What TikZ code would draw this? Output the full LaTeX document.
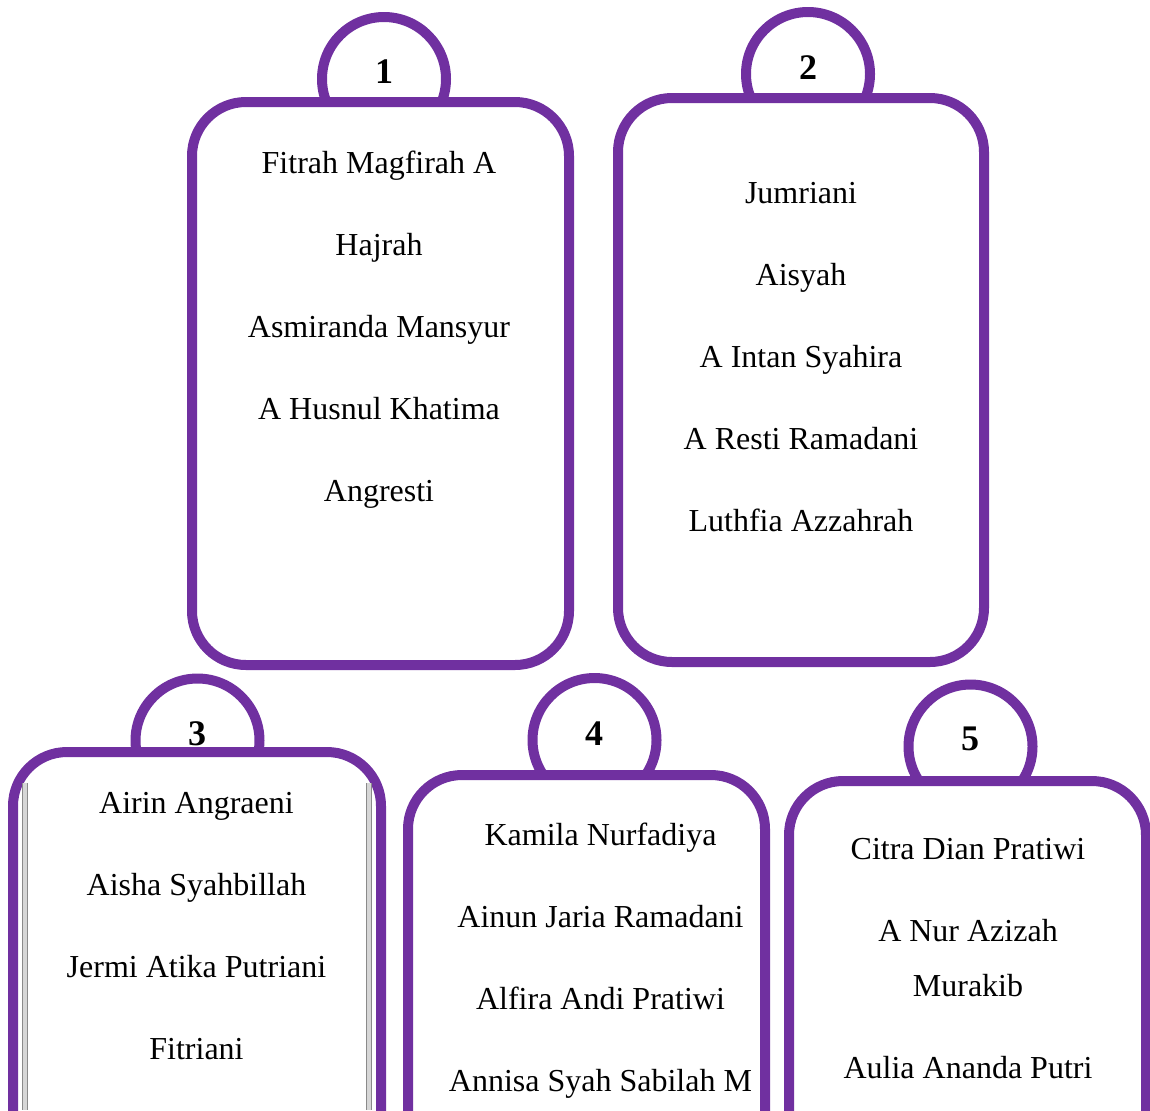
\documentclass[tikz,border=0pt]{standalone}
\usepackage{fontspec}
\setmainfont{Liberation Serif}
\usepackage{xcolor}
\usepackage{tikz}
\usetikzlibrary{positioning}
\definecolor{grouppurple}{HTML}{7030A0}
\definecolor{railgrey}{HTML}{8A8A8A}

\tikzset{
    groupcard/.style={draw=grouppurple, fill=white, line width=5pt, rounded corners=27pt,
                      outer sep=0pt, inner sep=0pt, anchor=north},
    grouptab/.style={circle, draw=grouppurple, fill=white, line width=5pt,
                     minimum size=62pt, inner sep=0pt, outer sep=0pt},
    groupnum/.style={font=\fontsize{18}{18}\selectfont\bfseries, anchor=base, inner sep=0pt},
    % base of a multi-line node = baseline of its last line
    membernames/.style={font=\fontsize{16}{41}\selectfont, align=center, anchor=base, inner sep=0pt},
    cardrail/.style={draw=railgrey, line width=0.7pt, double=railgrey!35, double distance=1.6pt}
}

\begin{document}
\begin{tikzpicture}[x=0.5pt, y=-0.5pt]
    \useasboundingbox (0,0) rectangle (1150,1110);
    \clip (0,0) rectangle (1150,1110);

    % tabs sit behind the cards
    \node[grouptab] (tab1) at (384,79) {};
    \node[grouptab] (tab2) at (808,74) {};
    \node[grouptab] (tab3) at (197.5,740.5) {};
    \node[grouptab] (tab4) at (594.5,740) {};
    \node[grouptab] (tab5) at (970.5,746.5) {};

    % cards
    \node[groupcard, minimum width=188.5pt, minimum height=281.5pt] (card1) at (380.5,102) {};
    \node[groupcard, minimum width=183pt, minimum height=282pt] (card2) at (801,98) {};
    \node[groupcard, minimum width=184pt, minimum height=250pt] (card3) at (197,752) {};
    \node[groupcard, minimum width=178.5pt, minimum height=240pt] (card4) at (586.5,775) {};
    \node[groupcard, minimum width=178.5pt, minimum height=240pt] (card5) at (967.5,781) {};

    \draw[cardrail] (25,783) -- (25,1110);
    \draw[cardrail] (369,783) -- (369,1110);

    % group numbers
    \node[groupnum] (num1) at (384,83) {1};
    \node[groupnum] (num2) at (808,79) {2};
    \node[groupnum] (num3) at (197,745) {3};
    \node[groupnum] (num4) at (594,745) {4};
    \node[groupnum] (num5) at (970,750) {5};

    % members
    \node[membernames] (names1) at (379,501) {Fitrah Magfirah A\\Hajrah\\Asmiranda Mansyur\\A Husnul Khatima\\Angresti};
    \node[membernames] (names2) at (801,531) {Jumriani\\Aisyah\\A Intan Syahira\\A Resti Ramadani\\Luthfia Azzahrah};
    \node[membernames] (names3) at (196.5,1059) {Airin Angraeni\\Aisha Syahbillah\\Jermi Atika Putriani\\Fitriani};
    \node[membernames] (names4) at (600.5,1091) {Kamila Nurfadiya\\Ainun Jaria Ramadani\\Alfira Andi Pratiwi\\Annisa Syah Sabilah M};
    \node[membernames] (names5) at (968,1078) {Citra Dian Pratiwi\\A Nur Azizah\\[-13.5pt]Murakib\\Aulia Ananda Putri};
\end{tikzpicture}
\end{document}
